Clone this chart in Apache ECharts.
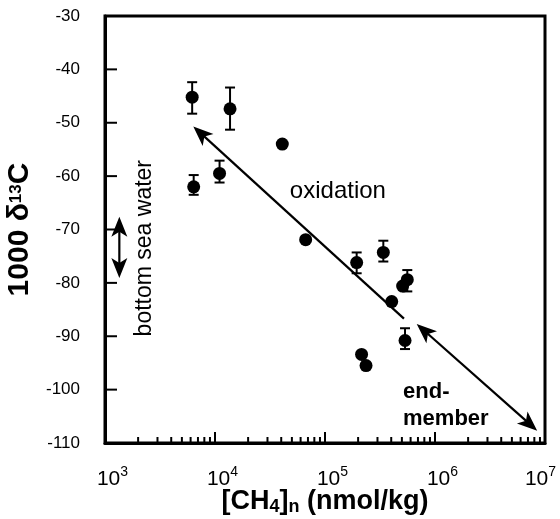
<!DOCTYPE html>
<html>
<head>
<meta charset="utf-8">
<script src="https://cdn.jsdelivr.net/npm/echarts@6/dist/echarts.min.js"></script>
<style>
  html, body { margin: 0; padding: 0; background: #fff; }
  #chart { width: 560px; height: 519px; }
</style>
</head>
<body>
<div id="chart"></div>
<script>
// 数据：CH4 浓度 (nmol/kg) 与 δ13C
var ch4  = [6200, 6400, 11000, 13700, 40900, 66700, 194000, 339000, 560000, 508000, 404000, 534000, 215000, 236000];
var d13c = [-45.2, -62.0, -59.5, -47.4, -54.0, -71.9, -76.2, -74.3, -79.4, -80.6, -83.5, -90.8, -93.4, -95.5];

// 误差棒
var errX    = [6200, 6400, 11000, 13700, 194000, 339000, 560000, 534000];
var errHigh = [-42.4, -59.8, -57.1, -43.4, -74.3, -72.1, -77.6, -88.5];
var errLow  = [-48.3, -63.5, -61.2, -51.3, -78.2, -76.0, -81.6, -92.4];

// 箭头: 起点、终点、两端是否有箭头
var arrowFromX = [6350, 682000, 1350];
var arrowFromY = [-50.7, -87.7, -67.6];
var arrowToX   = [522000, 8490000, 1350];
var arrowToY   = [-86.7, -107.7, -79.1];
var arrowHeadFrom = [1, 1, 1];
var arrowHeadTo   = [0, 1, 1];

// 文字标注
var noteText = ['oxidation', 'end-\nmember', 'bottom sea water'];
var noteX    = [131000, 512000, 2310];
var noteY    = [-62.8, -103.0, -73.5];

// 刻度
var yTicks = [-30, -40, -50, -60, -70, -80, -90, -100, -110];
var xExps  = [3, 4, 5, 6, 7];
var minorMult = [2, 3, 4, 5, 6, 7, 8, 9];

// 刻度线 [x, y, 方向, 长度]：方向 0 = x 轴（画在框底边），1 = y 轴（画在框左边）
var ticks = [];
xExps.slice(1, -1).forEach(function (e) { ticks.push([Math.pow(10, e), -100, 0, 11]); });
xExps.slice(0, -1).forEach(function (e) {
  minorMult.forEach(function (m) { ticks.push([m * Math.pow(10, e), -100, 0, 6]); });
});
yTicks.forEach(function (v) { ticks.push([10000, v, 1, 12]); });

var font = '"Liberation Sans", Arial, sans-serif';
var chart = echarts.init(document.getElementById('chart'));

function renderErr(params, api) {
  var top = api.coord([api.value(0), api.value(1)]);
  var bot = api.coord([api.value(0), api.value(2)]);
  var w = 5;
  var st = { stroke: '#000', lineWidth: 2 };
  return {
    type: 'group',
    children: [
      { type: 'line', shape: { x1: top[0], y1: top[1], x2: bot[0], y2: bot[1] }, style: st },
      { type: 'line', shape: { x1: top[0] - w, y1: top[1], x2: top[0] + w, y2: top[1] }, style: st },
      { type: 'line', shape: { x1: bot[0] - w, y1: bot[1], x2: bot[0] + w, y2: bot[1] }, style: st }
    ]
  };
}

function head(tip, ux, uy) {
  var L = 20, W = 8, N = 15;
  var nx = -uy, ny = ux;
  return [
    [tip[0], tip[1]],
    [tip[0] - L * ux + W * nx, tip[1] - L * uy + W * ny],
    [tip[0] - N * ux, tip[1] - N * uy],
    [tip[0] - L * ux - W * nx, tip[1] - L * uy - W * ny]
  ];
}

function renderArrow(params, api) {
  var i = params.dataIndex;
  var a = api.coord([api.value(0), api.value(1)]);
  var b = api.coord([api.value(2), api.value(3)]);
  var dx = b[0] - a[0], dy = b[1] - a[1];
  var len = Math.sqrt(dx * dx + dy * dy);
  var ux = dx / len, uy = dy / len;
  var s = arrowHeadFrom[i] ? 14 : 0, e = arrowHeadTo[i] ? 14 : 0;
  var children = [{
    type: 'line',
    shape: { x1: a[0] + s * ux, y1: a[1] + s * uy, x2: b[0] - e * ux, y2: b[1] - e * uy },
    style: { stroke: '#000', lineWidth: 2.2 }
  }];
  if (arrowHeadFrom[i]) children.push({ type: 'polygon', shape: { points: head(a, -ux, -uy) }, style: { fill: '#000' } });
  if (arrowHeadTo[i]) children.push({ type: 'polygon', shape: { points: head(b, ux, uy) }, style: { fill: '#000' } });
  return { type: 'group', children: children };
}

// 刻度：位置来自坐标轴，贴在绘图框的底边或左边
function renderTick(params, api) {
  var cs = params.coordSys;
  var p = api.coord([api.value(0), api.value(1)]);
  var len = api.value(3);
  var shape;
  if (api.value(2) === 0) {
    var yb = cs.y + cs.height;
    shape = { x1: p[0], y1: yb, x2: p[0], y2: yb - len };
  } else {
    shape = { x1: cs.x, y1: p[1], x2: cs.x + len, y2: p[1] };
  }
  return {
    type: 'group',
    children: [{ type: 'line', shape: shape, style: { stroke: '#000', lineWidth: 2 } }]
  };
}

function renderNote(params, api) {
  var i = params.dataIndex;
  var p = api.coord([api.value(0), api.value(1)]);
  var styles = [
    { font: '24px ' + font, align: 'center' },
    { font: 'bold 22px ' + font, align: 'left', lineHeight: 27 },
    { font: '23px ' + font, align: 'center' }
  ];
  var st = styles[i];
  return {
    type: 'text',
    x: p[0], y: p[1],
    rotation: i === 2 ? Math.PI / 2 : 0,
    style: {
      text: noteText[i], fill: '#000', font: st.font,
      align: st.align, verticalAlign: 'middle', lineHeight: st.lineHeight
    }
  };
}

var option = {
  animation: false,
  grid: {
    left: 105, right: 15, top: 16, bottom: 76,
    outerBoundsMode: 'none',
    show: true, borderColor: '#000', borderWidth: 3
  },
  xAxis: {
    type: 'log', min: 1000, max: 10000000,
    name: '{a|[CH}{b|4}{a|]}{b|n}{a| (nmol/kg)}',
    nameLocation: 'middle', nameGap: 45, nameMoveOverlap: false,
    nameTextStyle: {
      rich: {
        a: { fontSize: 27, fontWeight: 'bold', fontFamily: font, color: '#000' },
        b: { fontSize: 18, fontWeight: 'bold', fontFamily: font, color: '#000', padding: [10, 0, 0, 0] }
      }
    },
    axisLine: { lineStyle: { color: '#000', width: 3 } },
    axisTick: { show: false },
    splitLine: { show: false },
    axisLabel: {
      margin: 22, showMinLabel: true, showMaxLabel: true,
      formatter: function (v) {
        var e = Math.round(Math.log10(v));
        if (xExps.indexOf(e) < 0) return '';
        return e === 7 ? '{m7|10}{s7|' + e + '}' : '{m|10}{s|' + e + '}';
      },
      rich: {
        m:  { fontSize: 21, fontFamily: font, color: '#000', padding: [0, 0, 0, 15] },
        s:  { fontSize: 14, fontFamily: font, color: '#000', padding: [0, 0, 15, 0] },
        m7: { fontSize: 21, fontFamily: font, color: '#000' },
        s7: { fontSize: 14, fontFamily: font, color: '#000', padding: [0, 9, 15, 0] }
      }
    }
  },
  yAxis: {
    type: 'value', min: -110, max: -30, interval: 10,
    name: '{a|1000 δ}{s|13}{a|C}',
    nameLocation: 'middle', nameGap: 68, nameRotate: 90,
    nameTextStyle: {
      rich: {
        a: { fontSize: 30, fontWeight: 'bold', fontFamily: font, color: '#000' },
        s: { fontSize: 17, fontWeight: 'bold', fontFamily: font, color: '#000', padding: [0, 0, 7, 0] }
      }
    },
    axisLine: { show: true, lineStyle: { color: '#000', width: 3 } },
    axisTick: { show: false },
    splitLine: { show: false },
    axisLabel: { margin: 25, fontSize: 17, fontFamily: font, color: '#000' }
  },
  series: [
    {
      type: 'custom', renderItem: renderArrow, silent: true,
      data: arrowFromX.map(function (x, i) { return [x, arrowFromY[i], arrowToX[i], arrowToY[i]]; }),
      encode: { x: [0, 2], y: [1, 3] }
    },
    {
      type: 'custom', renderItem: renderErr, silent: true,
      data: errX.map(function (x, i) { return [x, errHigh[i], errLow[i]]; }),
      encode: { x: 0, y: [1, 2] }
    },
    {
      type: 'scatter', symbol: 'circle', symbolSize: 13,
      itemStyle: { color: '#000', opacity: 1 },
      data: ch4.map(function (x, i) { return [x, d13c[i]]; }),
      z: 5
    },
    {
      type: 'custom', renderItem: renderNote, silent: true,
      data: noteX.map(function (x, i) { return [x, noteY[i]]; }),
      encode: { x: 0, y: 1 }
    },
    {
      type: 'custom', renderItem: renderTick, silent: true,
      data: ticks, encode: { x: 0, y: 1 }, z: 10
    }
  ]
};
chart.setOption(option);
</script>
</body>
</html>
